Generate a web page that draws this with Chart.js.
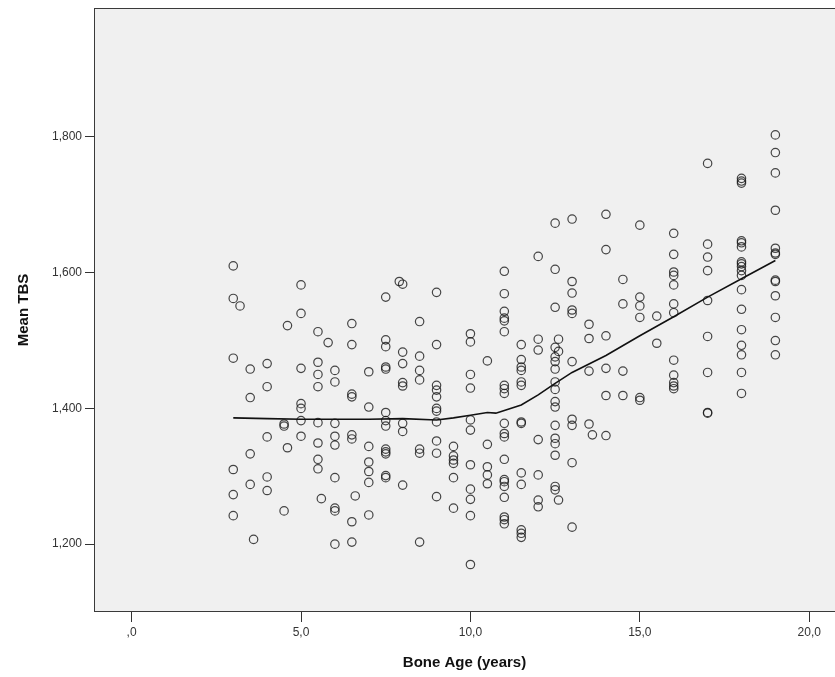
<!DOCTYPE html>
<html>
<head>
<meta charset="utf-8">
<title>Mean TBS by Bone Age</title>
<script src="https://cdn.jsdelivr.net/npm/chart.js@4/dist/chart.umd.min.js"></script>
<style>
  html, body { margin: 0; padding: 0; background: #fff; }
  #wrap { width: 835px; height: 677px; }
</style>
</head>
<body>
<div id="wrap"><canvas id="tbsChart" width="835" height="677"></canvas></div>
<script>
// bone age columns (years) and the mean TBS values read at each of them
const ages = [3, 3.2, 3.5, 3.6, 4, 4.5, 4.6, 5, 5.5, 5.6, 5.8, 6, 6.5, 6.6, 7, 7.5, 7.9, 8, 8.5, 9, 9.5,
  10, 10.5, 11, 11.5, 12, 12.5, 12.6, 13, 13.5, 13.6, 14, 14.5, 15, 15.5, 16, 17, 18, 19];
const tbsAtAge = [
  [1.610, 1.562, 1.474, 1.310, 1.273, 1.242],
  [1.551],
  [1.458, 1.416, 1.333, 1.288],
  [1.207],
  [1.466, 1.432, 1.358, 1.299, 1.279],
  [1.377, 1.374, 1.249],
  [1.522, 1.342],
  [1.582, 1.540, 1.459, 1.407, 1.400, 1.382, 1.359],
  [1.513, 1.468, 1.450, 1.432, 1.379, 1.349, 1.325, 1.311],
  [1.267],
  [1.497],
  [1.456, 1.439, 1.378, 1.359, 1.346, 1.298, 1.253, 1.249, 1.200],
  [1.525, 1.494, 1.421, 1.417, 1.361, 1.355, 1.233, 1.203],
  [1.271],
  [1.454, 1.402, 1.344, 1.321, 1.307, 1.291, 1.243],
  [1.564, 1.501, 1.491, 1.461, 1.458, 1.394, 1.382, 1.374, 1.340, 1.336, 1.333, 1.301, 1.298],
  [1.587],
  [1.583, 1.483, 1.466, 1.438, 1.433, 1.378, 1.366, 1.287],
  [1.528, 1.477, 1.456, 1.442, 1.340, 1.334, 1.203],
  [1.571, 1.494, 1.434, 1.427, 1.417, 1.400, 1.396, 1.380, 1.352, 1.334, 1.270],
  [1.344, 1.330, 1.324, 1.319, 1.298, 1.253],
  [1.510, 1.498, 1.450, 1.430, 1.383, 1.368, 1.317, 1.281, 1.266, 1.242, 1.170],
  [1.470, 1.347, 1.314, 1.302, 1.289],
  [1.602, 1.569, 1.543, 1.533, 1.529, 1.513, 1.434, 1.429, 1.422, 1.378, 1.363, 1.358, 1.325, 1.295, 1.292, 1.285, 1.269, 1.240, 1.236, 1.230],
  [1.494, 1.472, 1.461, 1.456, 1.439, 1.434, 1.380, 1.378, 1.305, 1.288, 1.221, 1.216, 1.210],
  [1.624, 1.502, 1.486, 1.354, 1.302, 1.265, 1.255],
  [1.673, 1.605, 1.549, 1.490, 1.476, 1.469, 1.458, 1.439, 1.428, 1.410, 1.402, 1.375, 1.356, 1.348, 1.331, 1.285, 1.280],
  [1.502, 1.484, 1.265],
  [1.679, 1.587, 1.570, 1.545, 1.540, 1.469, 1.384, 1.375, 1.320, 1.225],
  [1.524, 1.503, 1.455, 1.377],
  [1.361],
  [1.686, 1.634, 1.507, 1.459, 1.419, 1.360],
  [1.590, 1.554, 1.455, 1.419],
  [1.670, 1.564, 1.551, 1.534, 1.416, 1.412],
  [1.536, 1.496],
  [1.658, 1.627, 1.601, 1.596, 1.582, 1.554, 1.541, 1.471, 1.449, 1.438, 1.433, 1.429],
  [1.761, 1.642, 1.623, 1.603, 1.559, 1.506, 1.453, 1.394, 1.393],
  [1.739, 1.735, 1.732, 1.647, 1.644, 1.638, 1.616, 1.613, 1.609, 1.603, 1.596, 1.575, 1.546, 1.516, 1.493, 1.479, 1.453, 1.422],
  [1.803, 1.777, 1.747, 1.692, 1.636, 1.629, 1.627, 1.589, 1.587, 1.566, 1.534, 1.500, 1.479]
];

// fit line (loess)
const fitAge = [3, 4, 5, 6, 7, 8, 9, 9.5, 10, 10.5, 10.75, 11, 11.5, 12, 12.5, 13, 14, 15, 16, 17, 18, 19];
const fitTbs = [1.386, 1.385, 1.384, 1.384, 1.384, 1.385, 1.383, 1.386, 1.390, 1.394, 1.393, 1.397, 1.405,
  1.420, 1.437, 1.453, 1.478, 1.507, 1.535, 1.564, 1.591, 1.618];

const xTicks = [0, 5, 10, 15, 20];
const yTicks = [1.2, 1.4, 1.6, 1.8];

const points = [];
ages.forEach((age, i) => {
  tbsAtAge[i].forEach(v => points.push({ x: age, y: v }));
});
const fitPoints = fitAge.map((a, i) => ({ x: a, y: fitTbs[i] }));

// comma as decimal mark, like the original output
function commaNum(v, digits) {
  const s = v.toFixed(digits).replace('.', ',');
  return s.startsWith('0,') ? s.slice(1) : s;
}

const plotFrame = {
  id: 'plotFrame',
  beforeDraw(chart) {
    const { ctx, chartArea: a } = chart;
    ctx.save();
    ctx.fillStyle = '#F0F0F0';
    ctx.fillRect(a.left, a.top, a.right - a.left, a.bottom - a.top);
    ctx.restore();
  },
  afterDraw(chart) {
    const { ctx, chartArea: a } = chart;
    ctx.save();
    ctx.strokeStyle = '#3a3a3a';
    ctx.lineWidth = 1;
    ctx.strokeRect(a.left + 0.5, a.top + 0.5, a.right - a.left, a.bottom - a.top - 1);
    ctx.restore();
  }
};

const tickFont = { family: 'Arial, "Liberation Sans", sans-serif', size: 12 };
const titleFont = { family: 'Arial, "Liberation Sans", sans-serif', size: 15, weight: 'bold' };

new Chart(document.getElementById('tbsChart'), {
  type: 'scatter',
  data: {
    datasets: [
      {
        type: 'line',
        label: 'Fit',
        data: fitPoints,
        borderColor: '#111',
        borderWidth: 1.6,
        pointRadius: 0,
        fill: false,
        tension: 0,
        order: 0
      },
      {
        label: 'Mean TBS',
        data: points,
        pointRadius: 4.2,
        pointBorderWidth: 1.2,
        borderColor: 'rgba(25, 25, 25, 0.8)',
        backgroundColor: 'rgba(0, 0, 0, 0)',
        order: 1
      }
    ]
  },
  options: {
    responsive: false,
    animation: false,
    layout: { autoPadding: false, padding: { top: 8, right: 0, bottom: 0, left: 0 } },
    plugins: {
      legend: { display: false },
      tooltip: { enabled: false }
    },
    scales: {
      x: {
        type: 'linear',
        min: -1.11,
        max: 20.76,
        afterBuildTicks: s => { s.ticks = xTicks.map(v => ({ value: v })); },
        afterFit: s => { s.height = 65; s.paddingLeft = 0; s.paddingRight = 0; },
        border: { display: false },
        grid: { drawOnChartArea: false, drawTicks: true, tickLength: 10, color: '#333' },
        ticks: {
          font: tickFont,
          color: '#333',
          padding: 3,
          maxRotation: 0,
          callback: v => commaNum(v, 1)
        },
        title: {
          display: true,
          text: 'Bone Age (years)',
          font: titleFont,
          color: '#111',
          padding: { top: 0, bottom: 5 }
        }
      },
      y: {
        type: 'linear',
        min: 1.1,
        max: 1.99,
        afterBuildTicks: s => { s.ticks = yTicks.map(v => ({ value: v })); },
        afterFit: s => { s.width = 94; s.paddingTop = 0; s.paddingBottom = 0; },
        border: { display: false },
        grid: { drawOnChartArea: false, drawTicks: true, tickLength: 9, color: '#333' },
        ticks: {
          font: tickFont,
          color: '#333',
          padding: 3,
          callback: v => commaNum(v, 3)
        },
        title: {
          display: true,
          text: 'Mean TBS',
          font: titleFont,
          color: '#111',
          padding: { top: 15, bottom: 0 }
        }
      }
    }
  },
  plugins: [plotFrame]
});
</script>
</body>
</html>
